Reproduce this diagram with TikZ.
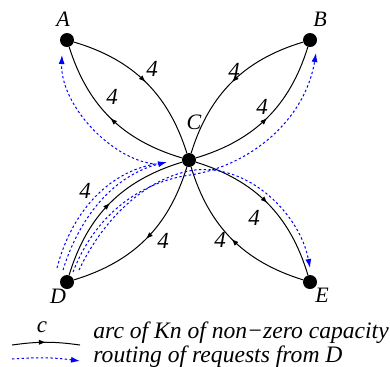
\documentclass[tikz,border=0pt]{standalone}
\usepackage{fontspec}
\setmainfont{Liberation Serif}
\usetikzlibrary{arrows.meta, decorations.markings, positioning}

\begin{document}
\begin{tikzpicture}[
x=0.5pt, y=-0.5pt,
    vertex/.style={circle, fill=black, inner sep=0pt, minimum size=7pt},
    vname/.style={font=\fontsize{11}{12}\selectfont\itshape, inner sep=0pt},
    numlbl/.style={font=\fontsize{11.5}{12}\selectfont\itshape, inner sep=0pt},
    karc/.style={draw, line width=0.5pt, postaction={decorate},
        decoration={markings, mark=at position 0.5 with {\arrow{Latex[length=3.5pt, width=2.6pt]}}}},
    route/.style={draw=blue, line width=0.5pt, dash pattern=on 1.2pt off 1.2pt, -{Latex[length=4.5pt, width=3pt]}},
    legtext/.style={font=\fontsize{11.8}{10}\selectfont\itshape, align=left, anchor=base west, inner sep=0pt}
]
    \useasboundingbox (0,0) rectangle (390,366);

    % --- Vertices ---
    \node[vertex] (A) at (67,40) {};
    \node[vertex] (B) at (310,40) {};
    \node[vertex] (C) at (189,160) {};
    \node[vertex] (D) at (67,282) {};
    \node[vertex] (E) at (310,282) {};

    \node[vname] (lA) at (63,19) {A};
    \node[vname] (lB) at (320,19) {B};
    \node[vname] (lC) at (194,122) {C};
    \node[vname] (lD) at (58,296) {D};
    \node[vname] (lE) at (322,295) {E};

    % --- Arcs of Kn ---
    \draw[karc] (A) to[bend left=28] (C);
    \draw[karc] (C) to[bend left=28] (A);
    \draw[karc] (B) to[bend right=28] (C);
    \draw[karc] (C) to[bend right=28] (B);
    \draw[karc] (D) to[bend left=28] (C);
    \draw[karc] (C) to[bend left=28] (D);
    \draw[karc] (C) to[bend left=28] (E);
    \draw[karc] (E) to[bend left=28] (C);

    % capacities
    \node[numlbl] (nAC) at (152,69) {4};
    \node[numlbl] (nCA) at (112,97) {4};
    \node[numlbl] (nBC) at (234,71) {4};
    \node[numlbl] (nCB) at (262,107) {4};
    \node[numlbl] (nDC) at (85,191) {4};
    \node[numlbl] (nCD) at (163,241) {4};
    \node[numlbl] (nCE) at (254,218) {4};
    \node[numlbl] (nEC) at (220,240) {4};

    % --- Routing of requests from D ---
    \coordinate (dA) at (57,268);
    \coordinate (dC) at (63,270);
    \coordinate (dB) at (73,272);
    \coordinate (dE) at (79,270);
    \coordinate (turnA) at (155,164);
    \coordinate (endC) at (167,162);
    \coordinate (viaB) at (190,175);
    \coordinate (viaE) at (195,170);
    \coordinate (endA) at (62,55);
    \coordinate (endB) at (316,53);
    \coordinate (endE) at (310,268);

    \draw[route] (dA) .. controls (72,210) and (110,172) .. (turnA)
        .. controls (112,160) and (60,105) .. (endA);
    \draw[route] (dC) .. controls (80,215) and (115,175) .. (endC);
    \draw[route] (dB) .. controls (95,215) and (140,182) .. (viaB)
        .. controls (250,166) and (305,120) .. (endB);
    \draw[route] (dE) .. controls (105,215) and (150,176) .. (viaE)
        .. controls (250,164) and (300,215) .. (endE);

    % --- Legend ---
    \coordinate (lgArcS) at (12,345);
    \coordinate (lgArcT) at (80,345);
    \coordinate (lgRouS) at (12,359);
    \coordinate (lgRouT) at (80,361);
    \draw[karc] (lgArcS) to[bend left=8] (lgArcT);
    \node[numlbl] (lgc) at (42,327) {c};
    \draw[route] (lgRouS) to[bend left=6] (lgRouT);
    \node[legtext] (lgTxt) at (93,362) {arc of Kn of non−zero capacity\\routing of requests from D};

\end{tikzpicture}
\end{document}
